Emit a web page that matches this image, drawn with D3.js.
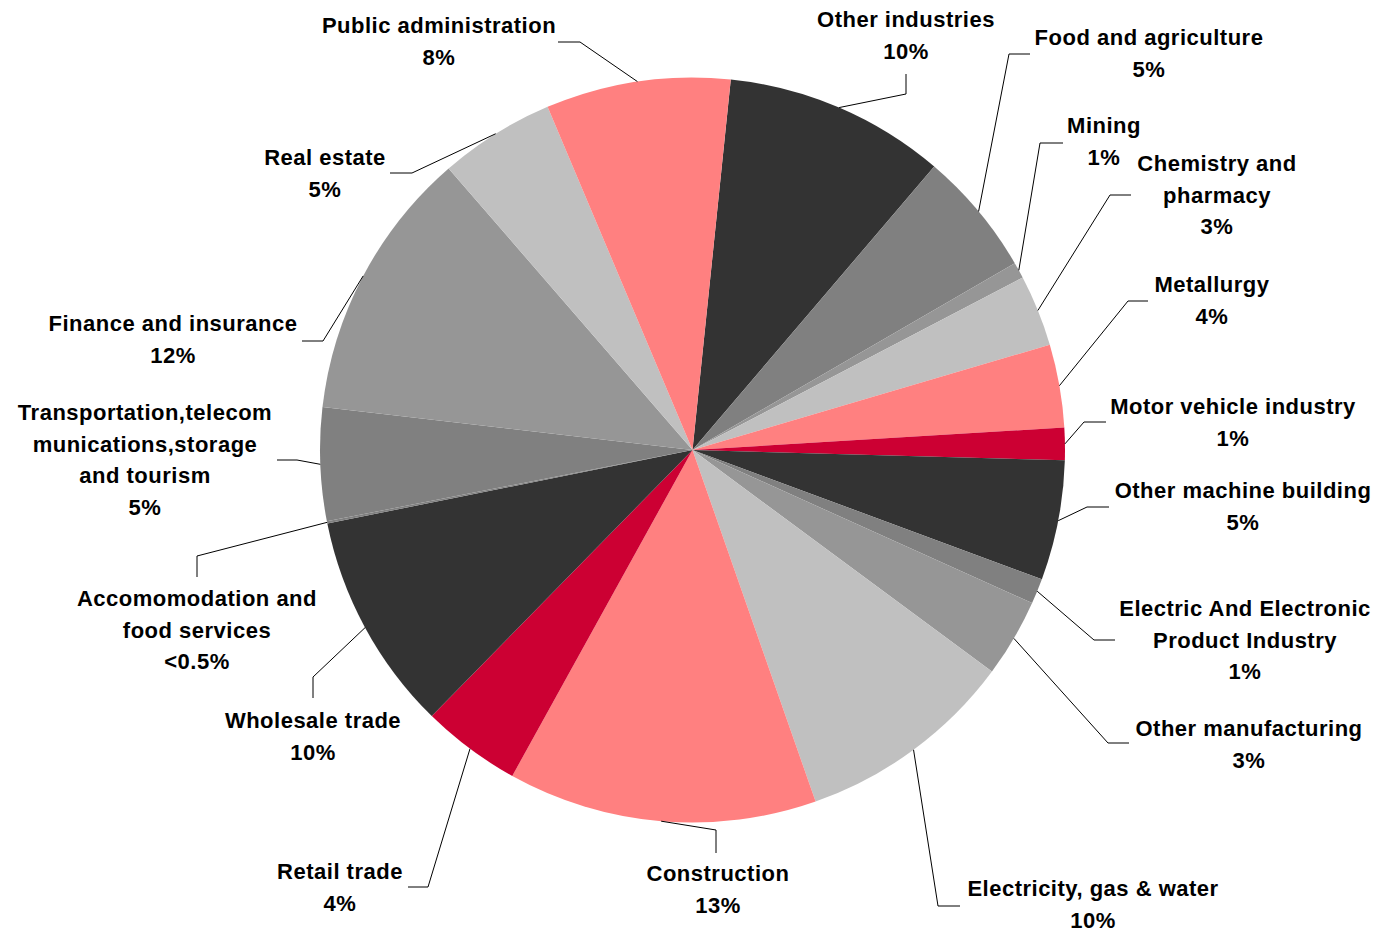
<!DOCTYPE html>
<html>
<head>
<meta charset="utf-8">
<script src="https://cdn.jsdelivr.net/npm/d3@7"></script>
<style>
  html, body { margin: 0; padding: 0; background: #ffffff; }
  svg { display: block; }
  text { font-family: "Liberation Sans", Arial, sans-serif; font-weight: bold; font-size: 22px; fill: #000; letter-spacing: 0.5px; }
</style>
</head>
<body>
<svg id="chart" width="1377" height="932"></svg>
<script>
// ---- data ----
const categories = [
  "Other industries", "Food and agriculture", "Mining", "Chemistry and pharmacy",
  "Metallurgy", "Motor vehicle industry", "Other machine building",
  "Electric And Electronic Product Industry", "Other manufacturing",
  "Electricity, gas & water", "Construction", "Retail trade", "Wholesale trade",
  "Accomomodation and food services", "Transportation,telecom munications,storage and tourism",
  "Finance and insurance", "Real estate", "Public administration"
];
const shares = [9.6, 5.4, 0.7, 3.1, 3.6, 1.4, 5.2, 1.1, 3.4, 9.5, 13.4, 4.3, 9.5, 0.1, 4.9, 11.8, 5.0, 8.0];
// label line breaks (text content, as in the original)
const labelLines = [
  ["Other industries"], ["Food and agriculture"], ["Mining"], ["Chemistry and", "pharmacy"],
  ["Metallurgy"], ["Motor vehicle industry"], ["Other machine building"],
  ["Electric And Electronic", "Product Industry"], ["Other manufacturing"],
  ["Electricity, gas & water"], ["Construction"], ["Retail trade"], ["Wholesale trade"],
  ["Accomomodation and", "food services"], ["Transportation,telecom", "munications,storage", "and tourism"],
  ["Finance and insurance"], ["Real estate"], ["Public administration"]
];

// ---- styles / layout ----
const colors = ["#333333", "#808080", "#969696", "#C0C0C0", "#FF8080", "#CC0033", "#333333",
  "#808080", "#969696", "#C0C0C0", "#FF8080", "#CC0033", "#333333", "#808080", "#808080",
  "#969696", "#C0C0C0", "#FF8080"];
const cx = 692.5, cy = 450, R = 372.5;
const startDeg = 5.9;
// label layout: [text center x, first line center y, elbow x, elbow y, end x, end y]
const labelLayout = [
  [906, 19, 906, 94, 906, 74],
  [1149, 37, 1009, 54, 1030, 54],
  [1104, 125, 1040, 143, 1063, 143],
  [1217, 163, 1110, 195, 1131, 195],
  [1212, 284, 1128, 301, 1148, 301],
  [1233, 406, 1084, 422, 1106, 422],
  [1243, 490, 1087, 507, 1109, 507],
  [1245, 608, 1094, 640, 1115, 640],
  [1249, 728, 1108, 743, 1129, 743],
  [1093, 888, 938, 906, 960, 906],
  [718, 873, 716, 830, 716, 853],
  [340, 871, 428, 887, 408, 887],
  [313, 720, 313, 677, 313, 698],
  [197, 598, 197, 556, 197, 577],
  [145, 412, 297, 460, 277, 460],
  [173, 323, 323, 341, 302, 341],
  [325, 157, 412, 173, 390, 173],
  [439, 25, 580, 42, 558, 42]
];
const lineH = 31.5;

// ---- draw ----
const svg = d3.select("#chart");
const g = svg.append("g").attr("transform", `translate(${cx},${cy})`);
const start = startDeg * Math.PI / 180;
const pie = d3.pie().sort(null).value(d => d).startAngle(start).endAngle(start + 2 * Math.PI);
const arcs = pie(shares);
const arc = d3.arc().innerRadius(0).outerRadius(R);

g.selectAll("path.slice").data(arcs).enter().append("path")
  .attr("class", "slice")
  .attr("d", arc)
  .attr("fill", (d, i) => colors[i]);

const fmt = v => v < 0.5 ? "<0.5%" : Math.round(v) + "%";

arcs.forEach((d, i) => {
  const mid = (d.startAngle + d.endAngle) / 2;
  const px = cx + R * Math.sin(mid), py = cy - R * Math.cos(mid);
  const L = labelLayout[i];
  svg.append("polyline")
    .attr("points", `${px},${py} ${L[2]},${L[3]} ${L[4]},${L[5]}`)
    .attr("fill", "none").attr("stroke", "#000").attr("stroke-width", 1);
  const lines = labelLines[i].concat([fmt(shares[i])]);
  const t = svg.append("text").attr("text-anchor", "middle");
  lines.forEach((s, k) => {
    t.append("tspan").attr("x", L[0]).attr("y", L[1] + k * lineH + 8).text(s);
  });
});
</script>
</body>
</html>
